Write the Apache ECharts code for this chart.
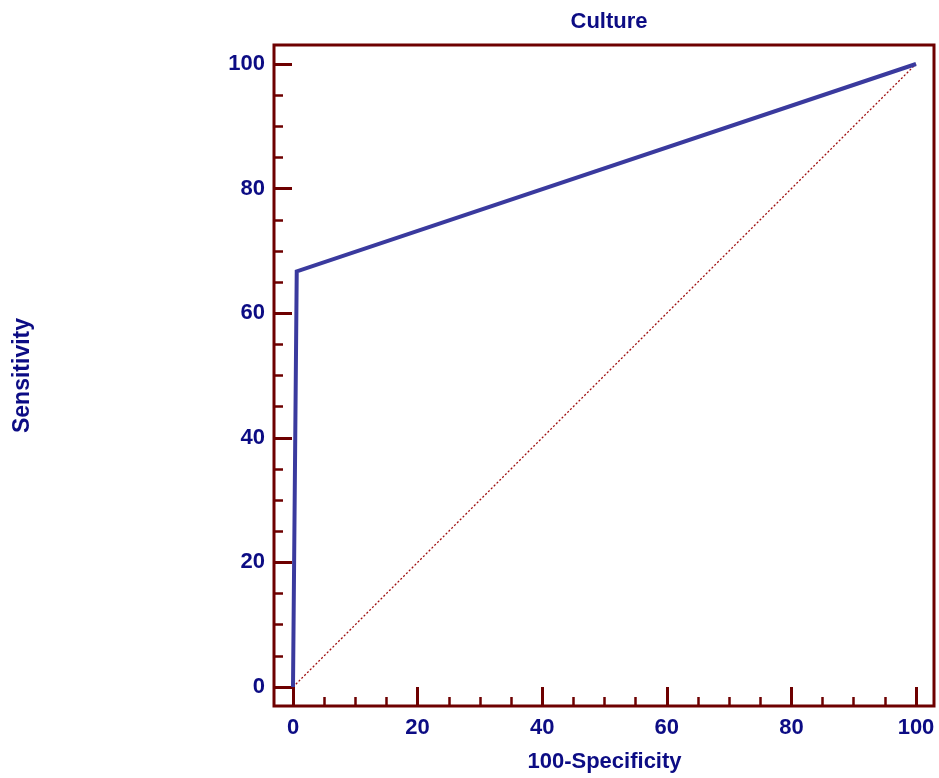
<!DOCTYPE html>
<html>
<head>
<meta charset="utf-8">
<script src="https://cdn.jsdelivr.net/npm/echarts@6/dist/echarts.min.js"></script>
<style>html,body{margin:0;padding:0;background:#fff}#c{width:939px;height:778px}</style>
</head>
<body>
<div id="c"></div>
<script>
var titleText = 'Culture';
var xName = '100-Specificity';
var yName = 'Sensitivity';
var rocX = [0, 0.6, 100];
var rocY = [0, 66.7, 100];
var diagX = [0, 100];
var diagY = [0, 100];

var frameColor = '#6e0000';
var textColor = '#0c0c84';
var font = 'Liberation Sans, Arial, sans-serif';

function pairs(xs, ys) { return xs.map(function (v, i) { return [v, ys[i]]; }); }

var chart = echarts.init(document.getElementById('c'));
chart.setOption({
  animation: false,
  title: {
    text: titleText, left: 604, top: 6, textAlign: 'center',
    textStyle: { color: textColor, fontFamily: font, fontWeight: 'bold', fontSize: 22 }
  },
  grid: [
    { left: 293, right: 23, top: 64, bottom: 90 },
    { left: 274, right: 5, top: 45, bottom: 72, show: true, borderColor: frameColor, borderWidth: 3, backgroundColor: 'transparent' }
  ],
  xAxis: [
    {
      type: 'value', gridIndex: 0, min: 0, max: 100, interval: 20, offset: 18,
      name: xName, nameLocation: 'middle', nameGap: 46,
      nameTextStyle: { color: textColor, fontFamily: font, fontWeight: 'bold', fontSize: 22 },
      axisLine: { show: true, onZero: false, lineStyle: { color: 'rgba(0,0,0,0)', width: 0 } },
      axisTick: { show: true, inside: true, length: 18, lineStyle: { color: frameColor, width: 3 } },
      minorTick: { show: true, splitNumber: 4, length: 8, lineStyle: { color: frameColor, width: 2.5 } },
      splitLine: { show: false },
      axisLabel: { color: textColor, fontFamily: font, fontWeight: 'bold', fontSize: 22, margin: 12 }
    },
    { type: 'value', gridIndex: 1, min: 0, max: 1, show: false }
  ],
  yAxis: [
    {
      type: 'value', gridIndex: 0, min: 0, max: 100, interval: 20, offset: 19,
      name: yName, nameLocation: 'middle', nameGap: 240,
      nameTextStyle: { color: textColor, fontFamily: font, fontWeight: 'bold', fontSize: 23 },
      axisLine: { show: true, onZero: false, lineStyle: { color: 'rgba(0,0,0,0)', width: 0 } },
      axisTick: { show: true, inside: true, length: 18, lineStyle: { color: frameColor, width: 3 } },
      minorTick: { show: true, splitNumber: 4, length: 9, lineStyle: { color: frameColor, width: 2.5 } },
      splitLine: { show: false },
      axisLabel: { color: textColor, fontFamily: font, fontWeight: 'bold', fontSize: 22, margin: 9 }
    },
    { type: 'value', gridIndex: 1, min: 0, max: 1, show: false }
  ],
  series: [
    {
      type: 'line', xAxisIndex: 0, yAxisIndex: 0, data: pairs(diagX, diagY),
      symbol: 'none', clip: false, silent: true,
      lineStyle: { color: '#a01010', width: 1.3, type: [2, 2] }
    },
    {
      type: 'line', xAxisIndex: 0, yAxisIndex: 0, data: pairs(rocX, rocY),
      symbol: 'none', clip: false, silent: true,
      lineStyle: { color: '#3a3a9e', width: 4, join: 'miter' }
    }
  ]
});
</script>
</body>
</html>
